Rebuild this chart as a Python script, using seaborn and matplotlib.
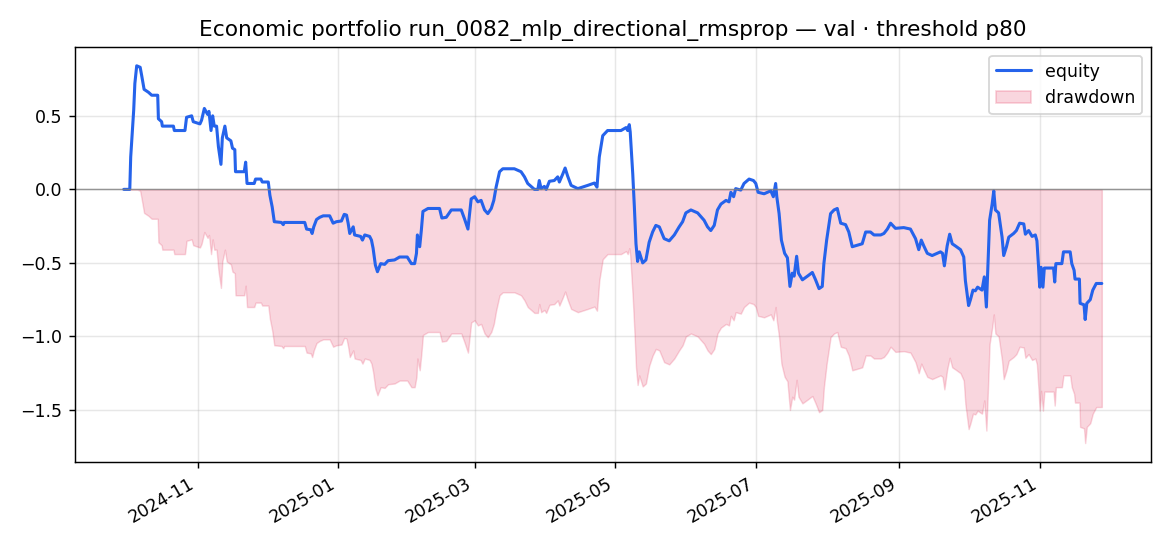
import pandas as pd
import seaborn as sns
import numpy as np
import matplotlib.pyplot as plt
import matplotlib.dates as mdates
from matplotlib.patches import Patch
from matplotlib.lines import Line2D

sns.set_theme(style='ticks')
plt.rcParams['font.family'] = ['DejaVu Sans']
plt.rcParams['text.color'] = 'black'
plt.rcParams['xtick.color'] = 'black'
plt.rcParams['ytick.color'] = 'black'

# values
start = '2024-09-30'
days = [0.0, 2.6, 3.0, 4.3, 4.8, 5.6, 7.1, 7.8, 8.8, 10.7, 12.1, 14.7, 15.0, 16.4, 16.7, 21.5, 21.9, 26.5,
        27.2, 29.4, 30.1, 33.0, 33.7, 34.9, 36.3, 36.9, 37.8, 38.5, 39.2, 40.2, 41.0, 42.1, 42.7, 43.8,
        44.6, 46.4, 47.1, 48.1, 48.4, 52.2, 52.8, 53.4, 56.5, 57.1, 59.4, 60.0, 62.6, 63.3, 64.3, 65.2,
        68.3, 69.1, 69.5, 78.4, 79.2, 81.0, 81.6, 82.3, 83.5, 84.9, 86.4, 89.2, 90.7, 92.1, 94.3, 95.5,
        96.5, 97.2, 97.9, 99.4, 100.0, 102.6, 103.4, 104.4, 106.5, 107.3, 108.0, 109.0, 109.9, 111.3,
        113.0, 114.5, 117.3, 119.5, 122.8, 124.6, 126.0, 126.8, 127.2, 128.2, 128.9, 129.6, 131.8,
        136.8, 137.8, 139.7, 141.9, 146.2, 147.6, 149.1, 150.5, 152.0, 153.4, 154.8, 156.3, 157.7,
        159.2, 160.3, 161.3, 162.8, 164.2, 169.2, 172.1, 173.6, 175.0, 177.9, 179.4, 180.0, 180.8,
        182.2, 183.0, 184.4, 186.5, 188.0, 188.7, 190.2, 191.2, 192.3, 193.8, 196.7, 201.0, 203.9,
        205.0, 206.0, 207.5, 209.6, 212.5, 215.4, 217.6, 218.3, 219.0, 219.4, 220.5, 221.2, 221.9,
        222.6, 223.3, 224.8, 226.2, 227.6, 229.1, 230.5, 232.0, 234.1, 236.3, 238.5, 240.6, 242.1,
        243.5, 245.7, 248.6, 251.4, 252.9, 254.3, 255.8, 257.2, 258.7, 260.9, 262.2, 263.0, 264.2,
        265.1, 267.3, 268.7, 270.9, 272.8, 273.8, 274.8, 277.4, 280.3, 281.4, 282.4, 282.9, 283.9,
        284.9, 286.3, 287.5, 288.6, 289.6, 290.4, 291.5, 292.3, 294.0, 296.2, 298.3, 299.7, 301.2,
        302.6, 303.3, 304.5, 306.2, 307.7, 309.1, 310.6, 312.7, 314.1, 315.6, 317.8, 319.9, 321.4,
        323.5, 325.0, 327.9, 329.3, 330.8, 332.2, 334.3, 337.9, 340.8, 343.0, 344.4, 345.5, 346.6,
        348.1, 350.2, 353.8, 354.7, 355.5, 356.7, 357.8, 358.9, 360.3, 362.5, 363.9, 364.6, 366.0,
        366.8, 367.9, 368.9, 369.9, 371.8, 372.8, 373.7, 374.3, 375.1, 376.2, 376.9, 377.6, 379.0,
        380.5, 381.2, 382.4, 383.4, 385.5, 386.7, 388.1, 389.9, 390.6, 392.0, 393.5, 394.9, 395.6,
        396.3, 396.8, 397.4, 398.2, 398.8, 402.8, 403.3, 403.8, 406.4, 407.1, 410.0, 410.7, 411.7,
        412.1, 414.0, 414.3, 416.0, 416.5, 417.2, 418.7, 419.8, 421.3, 423.7]
equity = [0.0, 0.0, 0.22, 0.54, 0.72, 0.84, 0.83, 0.77, 0.68, 0.66, 0.64, 0.64, 0.48, 0.46, 0.43, 0.43, 0.40, 0.40,
          0.49, 0.50, 0.46, 0.445, 0.47, 0.55, 0.51, 0.53, 0.40, 0.50, 0.43, 0.43, 0.29, 0.17, 0.35, 0.43,
          0.35, 0.33, 0.28, 0.27, 0.12, 0.12, 0.185, 0.04, 0.04, 0.07, 0.07, 0.05, 0.05, -0.04, -0.12, -0.22,
          -0.225, -0.24, -0.225, -0.225, -0.27, -0.275, -0.30, -0.255, -0.205, -0.19, -0.18, -0.18, -0.23, -0.22, -0.215, -0.17,
          -0.175, -0.23, -0.30, -0.255, -0.31, -0.32, -0.345, -0.31, -0.32, -0.345, -0.40, -0.515, -0.56, -0.505,
          -0.51, -0.485, -0.48, -0.46, -0.46, -0.505, -0.505, -0.435, -0.31, -0.39, -0.28, -0.15, -0.13,
          -0.13, -0.195, -0.19, -0.14, -0.14, -0.20, -0.27, -0.065, -0.05, -0.085, -0.075, -0.14, -0.165,
          -0.13, -0.075, 0.015, 0.12, 0.14, 0.14, 0.12, 0.085, 0.04, 0.0, 0.0, 0.06, 0.005,
          0.02, 0.0, 0.055, 0.06, 0.085, 0.05, 0.105, 0.145, 0.09, 0.027, 0.005, 0.027, 0.043,
          0.015, 0.22, 0.365, 0.40, 0.40, 0.40, 0.42, 0.40, 0.44, 0.39, 0.105, -0.12, -0.37,
          -0.49, -0.425, -0.50, -0.48, -0.36, -0.29, -0.245, -0.255, -0.335, -0.35, -0.31, -0.255, -0.22,
          -0.16, -0.14, -0.16, -0.21, -0.255, -0.28, -0.245, -0.14, -0.10, -0.075, -0.085, -0.02, -0.05,
          0.005, -0.005, 0.04, 0.07, 0.06, 0.04, -0.02, -0.03, -0.01, -0.05, 0.04, -0.05, -0.165,
          -0.345, -0.435, -0.465, -0.66, -0.57, -0.59, -0.455, -0.57, -0.615, -0.59, -0.565, -0.615, -0.675,
          -0.66, -0.505, -0.345, -0.165, -0.14, -0.13, -0.23, -0.24, -0.29, -0.39, -0.38, -0.37, -0.29,
          -0.29, -0.31, -0.31, -0.30, -0.27, -0.23, -0.265, -0.26, -0.27, -0.335, -0.41, -0.345, -0.385,
          -0.435, -0.45, -0.425, -0.435, -0.52, -0.385, -0.305, -0.37, -0.385, -0.41, -0.46, -0.62, -0.79,
          -0.75, -0.685, -0.69, -0.665, -0.685, -0.595, -0.80, -0.55, -0.21, -0.10, -0.01, -0.14, -0.16,
          -0.325, -0.45, -0.39, -0.325, -0.30, -0.28, -0.23, -0.235, -0.305, -0.28, -0.32, -0.31, -0.35,
          -0.525, -0.665, -0.53, -0.665, -0.535, -0.535, -0.63, -0.505, -0.505, -0.425, -0.425, -0.505, -0.55,
          -0.61, -0.61, -0.775, -0.785, -0.885, -0.775, -0.75, -0.685, -0.64, -0.64]
title = 'Economic portfolio run_0082_mlp_directional_rmsprop \u2014 val \u00b7 threshold p80'

df = pd.DataFrame({'date': pd.Timestamp(start) + pd.to_timedelta(days, unit='D'), 'equity': equity})
df['drawdown'] = df['equity'] - df['equity'].cummax()

line_color = '#2563eb'
dd_color = '#e11d48'

fig, ax = plt.subplots(figsize=(9, 4.2), dpi=130)
fig.subplots_adjust(left=0.064, right=0.9835, top=0.914, bottom=0.154)

ax.fill_between(df['date'], df['drawdown'], 0, color=dd_color, alpha=0.18, linewidth=0.8)
sns.lineplot(data=df, x='date', y='equity', ax=ax, color=line_color, linewidth=1.7, estimator=None)
ax.axhline(0, color='gray', linewidth=0.8, alpha=0.8)

ax.grid(True, alpha=0.3, color='#b0b0b0', linewidth=0.8)
for s in ax.spines.values():
    s.set_color('black')
    s.set_linewidth(0.8)
ax.tick_params(axis='both', labelsize=9.6, colors='black', length=3.5, width=0.8)
ax.set_xlabel('')
ax.set_ylabel('')
ax.set_title(title, fontsize=12, color='black')

ax.xaxis.set_major_locator(mdates.MonthLocator(bymonth=[1, 3, 5, 7, 9, 11]))
ax.xaxis.set_major_formatter(mdates.DateFormatter('%Y-%m'))
plt.setp(ax.get_xticklabels(), rotation=30, ha='right')

handles = [Line2D([0], [0], color=line_color, linewidth=1.7),
           Patch(facecolor=dd_color, edgecolor=dd_color, alpha=0.18)]
leg = ax.legend(handles, ['equity', 'drawdown'], loc='upper right', fontsize=9.6, frameon=True)
for t in leg.get_texts():
    t.set_color('black')

fig.savefig('out.png', dpi=130)
